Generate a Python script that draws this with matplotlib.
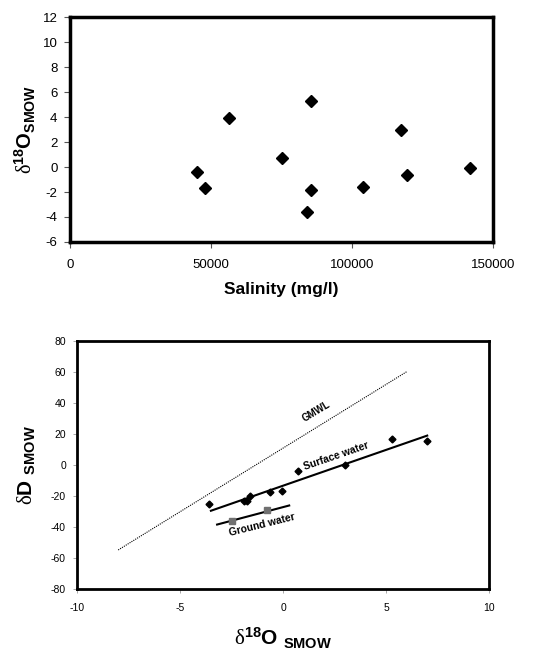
import numpy as np
import matplotlib
matplotlib.use('Agg')
import matplotlib.pyplot as plt

plt.rcParams['font.family'] = ['Liberation Sans', 'DejaVu Sans']
plt.rcParams['mathtext.fontset'] = 'custom'
plt.rcParams['mathtext.rm'] = 'Liberation Sans'
plt.rcParams['mathtext.bf'] = 'Liberation Sans:bold'
plt.rcParams['mathtext.it'] = 'Liberation Sans:italic'
plt.rcParams['mathtext.sf'] = 'Liberation Serif'  # upright serif delta
plt.rcParams['axes.unicode_minus'] = False

# salinity vs d18O
salinity = [44900, 47800, 56500, 75100, 85600, 85300, 84100, 104000, 117200, 119600, 141700]
d18o_sal = [-0.4, -1.7, 3.9, 0.7, 5.25, -1.85, -3.6, -1.6, 3.0, -0.6, -0.05]

# d18O vs dD, surface water samples
surf_o = [-3.58, -1.88, -1.75, -1.59, -0.62, -0.05, 0.75, 3.0, 5.3, 7.0]
surf_d = [-25.2, -23.1, -23.3, -19.8, -17.5, -16.8, -3.9, 0.2, 16.8, 15.5]
# ground water samples
gw_o = [-2.46, -0.76]
gw_d = [-36.0, -29.3]

# trend lines (end points)
surf_fit_o = [-3.5, 7.0]
surf_fit_d = [-29.5, 19.0]
gw_fit_o = [-3.2, 0.3]
gw_fit_d = [-38.4, -26.1]
gmwl_o = [-8.0, 6.0]
gmwl_d = [-54.8, 60.2]

fig = plt.figure(figsize=(5.54, 6.5), dpi=100)

# ---- top panel ----
ax1 = fig.add_axes([0.1264, 0.6277, 0.7635, 0.3461])
ax1.plot(salinity, d18o_sal, 'D', color='black', markersize=6, linestyle='none')
ax1.set_xlim(0, 150000)
ax1.set_ylim(-6, 12)
ax1.set_xticks([0, 50000, 100000, 150000])
ax1.set_yticks(np.arange(-6, 13, 2))
for s in ax1.spines.values():
    s.set_linewidth(2.5)
ax1.tick_params(axis='both', labelsize=9.5, length=4, width=0.8, color='#555555', direction='out')
ax1.tick_params(axis='x', pad=8)
ax1.tick_params(axis='y', pad=5)
ax1.set_xlabel('Salinity (mg/l)', fontsize=12.5, fontweight='bold')
ax1.xaxis.set_label_coords(0.5, -0.18)
ax1.set_ylabel(r'$\mathsf{\delta}^{\mathbf{18}}\mathbf{O}_{\mathbf{SMOW}}$', fontsize=14.5)
ax1.yaxis.set_label_coords(-0.076, 0.5)

# ---- bottom panel ----
ax2 = fig.add_axes([0.139, 0.0938, 0.7437, 0.3815])
ax2.plot(gmwl_o, gmwl_d, linestyle=(0, (1, 1)), color='black', linewidth=0.8)
ax2.plot(surf_fit_o, surf_fit_d, color='black', linewidth=1.5)
ax2.plot(gw_fit_o, gw_fit_d, color='black', linewidth=1.5)
ax2.plot(surf_o, surf_d, 'D', color='black', markersize=3.5, linestyle='none')
ax2.plot(gw_o, gw_d, 's', color='#707070', markersize=4.5, linestyle='none')
ax2.set_xlim(-10, 10)
ax2.set_ylim(-80, 80)
ax2.set_xticks([-10, -5, 0, 5, 10])
ax2.set_yticks(np.arange(-80, 81, 20))
for s in ax2.spines.values():
    s.set_linewidth(2)
ax2.tick_params(axis='both', labelsize=7.5, length=3, width=0.6, color='#999999', direction='out')
ax2.tick_params(axis='x', pad=7)
ax2.tick_params(axis='y', pad=5)

ax2.text(1.6, 34.5, 'GMWL', fontsize=7, fontweight='bold', rotation=31,
         ha='center', va='center')
ax2.text(2.6, 5.5, 'Surface water', fontsize=7.5, fontweight='bold', rotation=19,
         ha='center', va='center')
ax2.text(-1.0, -38.5, 'Ground water', fontsize=7.5, fontweight='bold', rotation=14,
         ha='center', va='center')

ax2.set_xlabel(r'$\mathsf{\delta}^{\mathbf{18}}\mathbf{O}\ _{\mathbf{SMOW}}$', fontsize=15)
ax2.xaxis.set_label_coords(0.5, -0.15)
ax2.set_ylabel(r'$\mathsf{\delta}\mathbf{D}\ _{\mathbf{SMOW}}$', fontsize=15)
ax2.yaxis.set_label_coords(-0.095, 0.5)

fig.savefig('out.png', dpi=100)
